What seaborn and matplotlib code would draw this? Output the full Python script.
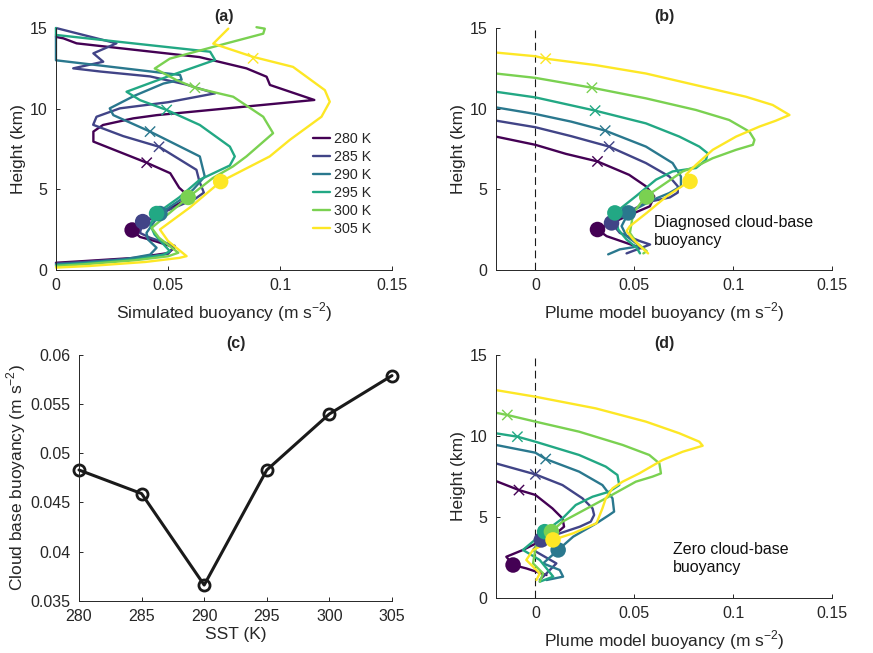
import matplotlib
matplotlib.use("Agg")
import matplotlib.pyplot as plt
import numpy as np
import pandas as pd
import seaborn as sns

SST = [280, 285, 290, 295, 300, 305]
LABELS = ["%d K" % s for s in SST]

# (a) simulated buoyancy profiles, bottom to top
SIM_B = {
    280: [0.0, 0.012, 0.035, 0.050, 0.053, 0.044, 0.0375, 0.034, 0.045, 0.056, 0.059, 0.055, 0.051, 0.0405,
          0.0167, 0.0167, 0.021, 0.0345, 0.045, 0.1153, 0.0955, 0.094, 0.085, 0.064, 0.0092, 0.0033, 0.0],
    285: [0.0, 0.012, 0.035, 0.05, 0.053, 0.042, 0.0375, 0.0387, 0.050, 0.062, 0.066, 0.064, 0.0627, 0.046,
          0.030, 0.0166, 0.0181, 0.0285, 0.050, 0.071, 0.058, 0.042, 0.020, 0.0077, 0.0211, 0.0167, 0.027, 0.0],
    290: [0.0, 0.012, 0.03, 0.042, 0.0449, 0.041, 0.0404, 0.0464, 0.055, 0.0612, 0.0664, 0.0642, 0.042,
          0.0256, 0.024, 0.035, 0.048, 0.0561, 0.0554, 0.0, 0.0],
    295: [0.0, 0.012, 0.035, 0.048, 0.0508, 0.044, 0.042, 0.0449, 0.055, 0.0642, 0.0776, 0.0798, 0.0776,
          0.0642, 0.0494, 0.0375, 0.0315, 0.05, 0.071, 0.0688, 0.0, 0.0],
    300: [0.0, 0.012, 0.035, 0.05, 0.0546, 0.046, 0.0427, 0.059, 0.070, 0.079, 0.085, 0.0969, 0.0925,
          0.0791, 0.062, 0.0538, 0.0441, 0.0508, 0.0702, 0.0925, 0.0932, 0.0895],
    305: [0.0, 0.015, 0.04, 0.055, 0.0583, 0.05, 0.0464, 0.06, 0.0735, 0.0954, 0.1044, 0.1185, 0.1222,
          0.12, 0.1058, 0.088, 0.0702, 0.0769],
}
SIM_Z = {
    280: [0.45, 0.55, 0.75, 1.05, 1.4, 1.8, 2.05, 2.48, 3.4, 4.2, 4.6, 5.1, 6.0, 6.65,
          7.96, 8.58, 8.99, 9.4, 9.6, 10.54, 11.47, 11.98, 12.5, 13.2, 14.05, 14.36, 14.45],
    285: [0.4, 0.5, 0.72, 1.0, 1.5, 2.0, 2.3, 3.0, 3.7, 4.4, 4.8, 5.5, 6.21, 7.64,
          8.3, 9.0, 9.5, 10.02, 10.4, 10.95, 11.5, 12.0, 12.3, 12.5, 12.91, 13.43, 14.05, 15.0],
    290: [0.35, 0.45, 0.65, 0.95, 1.38, 1.9, 2.3, 3.5, 4.3, 4.98, 5.8, 7.04, 8.58,
          9.6, 10.02, 10.8, 11.56, 11.8, 12.09, 13.0, 14.57],
    295: [0.3, 0.4, 0.65, 0.95, 1.17, 2.2, 2.82, 3.5, 4.5, 5.6, 6.48, 7.04, 7.65,
          8.99, 9.92, 10.53, 11.05, 12.0, 13.02, 13.53, 14.57, 15.0],
    300: [0.25, 0.35, 0.6, 0.85, 1.07, 2.0, 2.61, 4.5, 5.7, 6.42, 7.04, 8.48, 9.5,
          10.74, 11.3, 11.77, 12.49, 13.1, 13.83, 14.65, 14.96, 15.05],
    305: [0.15, 0.25, 0.5, 0.75, 0.86, 1.8, 2.51, 3.9, 5.48, 7.04, 8.07, 9.5, 10.43,
          11.15, 12.59, 13.21, 14.03, 14.96],
}
SIM_BASE_B = [0.034, 0.0387, 0.0464, 0.0449, 0.059, 0.0735]
SIM_BASE_Z = [2.48, 3.0, 3.5, 3.5, 4.5, 5.48]
SIM_LNB_B = [0.0405, 0.046, 0.042, 0.0494, 0.062, 0.088]
SIM_LNB_Z = [6.65, 7.64, 8.58, 9.92, 11.3, 13.12]

# (b) plume model, diagnosed cloud-base buoyancy
DIAG_B = {
    280: [0.0537, 0.036, 0.0314, 0.0461, 0.0579, 0.0601, 0.0559, 0.0474, 0.0314, 0.0154, 0.0, -0.02],
    285: [0.0461, 0.058, 0.0529, 0.0427, 0.0385, 0.0461, 0.0563, 0.068, 0.072, 0.072, 0.0677, 0.0559,
          0.0373, 0.018, 0.0, -0.02],
    290: [0.0368, 0.0427, 0.0529, 0.0461, 0.0436, 0.047, 0.0596, 0.0677, 0.0736, 0.0736, 0.0694, 0.0559,
          0.0353, 0.018, 0.0, -0.02],
    295: [0.0529, 0.0512, 0.0461, 0.0419, 0.0402, 0.0508, 0.061, 0.0694, 0.0812, 0.0863, 0.0871, 0.0829,
          0.0728, 0.0559, 0.0302, 0.0, -0.02],
    300: [0.0546, 0.0563, 0.0512, 0.0478, 0.0495, 0.0559, 0.061, 0.0745, 0.0812, 0.0897, 0.1015, 0.11,
          0.1108, 0.1082, 0.098, 0.0812, 0.0559, 0.0286, 0.0, -0.02],
    305: [0.057, 0.0529, 0.0495, 0.0461, 0.0478, 0.0563, 0.0664, 0.0778, 0.0761, 0.0812, 0.0897, 0.1015,
          0.1133, 0.1215, 0.1285, 0.12, 0.1065, 0.0812, 0.0559, 0.0305, 0.0052, 0.0, -0.02],
}
DIAG_Z = {
    280: [1.35, 2.1, 2.51, 3.33, 3.95, 4.57, 5.19, 5.9, 6.73, 7.2, 7.76, 8.27],
    285: [1.03, 1.58, 1.79, 2.3, 2.92, 3.54, 4.2, 4.5, 4.8, 5.19, 5.8, 6.63, 7.65, 8.3, 8.85, 9.26],
    290: [0.97, 1.28, 1.48, 2.1, 2.72, 3.54, 4.36, 4.77, 5.19, 5.8, 6.63, 7.65, 8.64, 9.2, 9.67, 10.08],
    295: [1.03, 1.38, 1.89, 2.51, 3.54, 4.57, 5.6, 6.11, 6.32, 6.83, 7.24, 7.65, 8.27, 9.09, 9.88,
          10.7, 11.05],
    300: [1.03, 1.17, 1.69, 2.3, 3.54, 4.57, 4.98, 6.11, 6.42, 6.93, 7.45, 7.76, 8.07, 8.58, 9.3, 9.92,
          10.64, 11.3, 11.91, 12.18],
    305: [1.03, 1.48, 1.89, 2.41, 2.72, 3.54, 4.57, 5.49, 5.9, 6.52, 7.45, 8.27, 8.89, 9.25, 9.61, 10.23,
          10.74, 11.46, 12.18, 12.7, 13.1, 13.25, 13.48],
}
DIAG_BASE_B = [0.0314, 0.0385, 0.047, 0.0402, 0.0563, 0.0782]
DIAG_BASE_Z = [2.51, 2.92, 3.54, 3.54, 4.53, 5.49]
DIAG_LNB_B = [0.0314, 0.0373, 0.0353, 0.0302, 0.0286, 0.0052]
DIAG_LNB_Z = [6.73, 7.65, 8.64, 9.88, 11.3, 13.1]

# (d) plume model, zero cloud-base buoyancy
ZERO_B = {
    280: [0.0056, -0.0046, -0.0113, -0.0147, -0.0063, 0.0106, 0.0145, 0.0137, 0.0086, 0.0, -0.0083, -0.02],
    285: [0.0022, 0.0056, 0.0106, -0.0012, 0.003, 0.0073, 0.0225, 0.028, 0.0297, 0.0289, 0.0238, 0.0137,
          0.0, -0.02],
    290: [0.0056, 0.014, 0.0123, 0.0039, 0.0115, 0.0191, 0.0309, 0.0373, 0.0398, 0.039, 0.0339, 0.0221,
          0.0052, 0.0, -0.02],
    295: [0.0022, 0.009, 0.0022, -0.0063, 0.0047, 0.0137, 0.0204, 0.0289, 0.0373, 0.0424, 0.0415, 0.0356,
          0.0221, 0.0, -0.0091, -0.02],
    300: [0.0022, 0.0039, -0.0012, 0.0005, 0.0081, 0.0137, 0.0356, 0.0508, 0.0592, 0.0635, 0.0627, 0.0576,
          0.0441, 0.0221, 0.0, -0.0142, -0.02],
    305: [0.0005, 0.0022, -0.0046, -0.0012, 0.0089, 0.0191, 0.0309, 0.0339, 0.0356, 0.039, 0.0441, 0.0525,
          0.0643, 0.0745, 0.0846, 0.0829, 0.0728, 0.0559, 0.0305, 0.0, -0.02],
}
ZERO_Z = {
    280: [1.4, 1.81, 2.02, 2.53, 2.95, 3.98, 4.39, 4.9, 5.52, 6.35, 6.65, 7.21],
    285: [1.1, 1.5, 2.12, 2.95, 3.57, 3.77, 4.39, 4.7, 5.11, 5.52, 6.14, 6.96, 7.62, 8.3],
    290: [1.09, 1.3, 1.71, 2.12, 2.95, 3.77, 4.6, 5.11, 5.32, 6.14, 6.96, 7.79, 8.57, 8.96, 9.44],
    295: [0.99, 1.3, 2.33, 2.95, 4.08, 4.9, 5.73, 6.24, 6.55, 6.96, 7.58, 8.1, 8.82, 9.64, 9.95, 10.16],
    300: [0.99, 1.5, 2.12, 3.36, 4.08, 4.7, 6.14, 7.17, 7.48, 7.68, 8.3, 8.82, 9.44, 10.26, 10.88, 11.29,
          11.43],
    305: [1.09, 1.5, 2.33, 2.95, 3.57, 3.98, 4.6, 5.52, 6.14, 6.76, 7.17, 7.68, 8.51, 9.02, 9.39, 9.64,
          10.16, 10.88, 11.7, 12.42, 12.83],
}
ZERO_BASE_B = [-0.0113, 0.003, 0.0115, 0.0047, 0.0081, 0.0089]
ZERO_BASE_Z = [2.02, 3.57, 2.95, 4.08, 4.08, 3.57]
ZERO_LNB_B = [-0.0083, 0.0, 0.0052, -0.0091, -0.0142, np.nan]
ZERO_LNB_Z = [6.65, 7.62, 8.57, 9.95, 11.29, np.nan]

# (c) cloud base buoyancy vs SST
CB_BUOY = [0.0483, 0.0459, 0.0366, 0.0483, 0.0540, 0.0579]

DARK = "#262626"
PALETTE = sns.color_palette("viridis", as_cmap=True)(np.linspace(0, 1, 6))
PALETTE = [tuple(c[:3]) for c in PALETTE]


def profiles(b, z):
    rows = []
    for s, lab in zip(SST, LABELS):
        for bb, zz in zip(b[s], z[s]):
            rows.append({"sst": lab, "b": bb, "z": zz})
    return pd.DataFrame(rows)


def points(b, z):
    return pd.DataFrame({"sst": LABELS, "b": b, "z": z})


def style_axes(ax):
    sns.despine(ax=ax)
    for sp in ["left", "bottom"]:
        ax.spines[sp].set_color(DARK)
        ax.spines[sp].set_linewidth(0.7)
    ax.tick_params(direction="in", length=3, width=0.7, colors=DARK,
                   labelsize=11.5, pad=6)


def profile_panel(ax, b, z, base_b, base_z, lnb_b, lnb_z, xmin, clip=True):
    sns.lineplot(data=profiles(b, z), x="b", y="z", hue="sst", hue_order=LABELS,
                 palette=PALETTE, sort=False, estimator=None, linewidth=1.7,
                 ax=ax, legend=True, clip_on=clip)
    sns.scatterplot(data=points(lnb_b, lnb_z), x="b", y="z", hue="sst", hue_order=LABELS,
                    palette=PALETTE, marker="x", s=55, linewidth=1.0, ax=ax,
                    legend=False, zorder=3)
    sns.scatterplot(data=points(base_b, base_z), x="b", y="z", hue="sst", hue_order=LABELS,
                    palette=PALETTE, marker="o", s=125, linewidth=0, ax=ax,
                    legend=False, zorder=4)
    ax.set_xlim(xmin, 0.15)
    ax.set_ylim(0, 15)
    ax.set_xticks([0, 0.05, 0.1, 0.15], ["0", "0.05", "0.1", "0.15"])
    ax.set_yticks([0, 5, 10, 15], ["0", "5", "10", "15"])
    ax.set_ylabel("Height (km)", fontsize=12.5, color=DARK, labelpad=3)
    style_axes(ax)


sns.set_theme(style="ticks")
plt.rcParams["font.family"] = ["Liberation Sans", "DejaVu Sans"]
plt.rcParams["mathtext.fontset"] = "custom"
plt.rcParams["mathtext.rm"] = "Liberation Sans"

fig = plt.figure(figsize=(8.73, 6.53), dpi=100)
ax_a = fig.add_axes([0.0641, 0.5865, 0.385, 0.3706])
ax_b = fig.add_axes([0.568, 0.5865, 0.385, 0.3706])
ax_c = fig.add_axes([0.0905, 0.080, 0.3585, 0.3764])
ax_d = fig.add_axes([0.568, 0.0847, 0.385, 0.3717])

unit = r"(m s$^{-2}$)"

# (a)
profile_panel(ax_a, SIM_B, SIM_Z, SIM_BASE_B, SIM_BASE_Z, SIM_LNB_B, SIM_LNB_Z, 0, clip=False)
ax_a.set_xlabel("Simulated buoyancy " + unit, fontsize=12.5, color=DARK, labelpad=5)
ax_a.set_title("(a)", fontsize=11.5, fontweight="bold", pad=5)
sns.move_legend(ax_a, "upper left", bbox_to_anchor=(0.765, 0.57), frameon=False, title=None,
                fontsize=10.3, handlelength=1.2, handletextpad=0.25, labelspacing=0.28,
                borderpad=0, borderaxespad=0)

# (b)
ax_b.axvline(0, color="k", linestyle=(0, (7, 4)), linewidth=0.8, zorder=1)
profile_panel(ax_b, DIAG_B, DIAG_Z, DIAG_BASE_B, DIAG_BASE_Z, DIAG_LNB_B, DIAG_LNB_Z, -0.02)
ax_b.get_legend().remove()
ax_b.set_xlabel("Plume model buoyancy " + unit, fontsize=12.5, color=DARK, labelpad=5)
ax_b.set_title("(b)", fontsize=11.5, fontweight="bold", pad=5)
ax_b.text(0.060, 2.4, "Diagnosed cloud-base\nbuoyancy", fontsize=11.5, va="center", ha="left",
          linespacing=1.25, color="#111111")

# (c)
df_c = pd.DataFrame({"sst": SST, "cb": CB_BUOY})
sns.lineplot(data=df_c, x="sst", y="cb", color="k", linewidth=2.2, marker="o",
             markersize=8, markerfacecolor="none", markeredgecolor="k", markeredgewidth=2.0,
             ax=ax_c, clip_on=False)
ax_c.set_xlim(280, 305)
ax_c.set_ylim(0.035, 0.06)
ax_c.set_xticks(SST, [str(s) for s in SST])
ax_c.set_yticks([0.035, 0.04, 0.045, 0.05, 0.055, 0.06],
                ["0.035", "0.04", "0.045", "0.05", "0.055", "0.06"])
ax_c.set_xlabel("SST (K)", fontsize=12.5, color=DARK, labelpad=2)
ax_c.set_ylabel("Cloud base buoyancy " + unit, fontsize=12.5, color=DARK, labelpad=2)
ax_c.set_title("(c)", fontsize=11.5, fontweight="bold", pad=5)
style_axes(ax_c)

# (d)
ax_d.axvline(0, color="k", linestyle=(0, (7, 4)), linewidth=0.8, zorder=1)
profile_panel(ax_d, ZERO_B, ZERO_Z, ZERO_BASE_B, ZERO_BASE_Z, ZERO_LNB_B, ZERO_LNB_Z, -0.02)
ax_d.get_legend().remove()
ax_d.set_xlabel("Plume model buoyancy " + unit, fontsize=12.5, color=DARK, labelpad=5)
ax_d.set_title("(d)", fontsize=11.5, fontweight="bold", pad=5)
ax_d.text(0.0697, 2.44, "Zero cloud-base\nbuoyancy", fontsize=11.5, va="center", ha="left",
          linespacing=1.25, color="#111111")

fig.savefig("out.png", dpi=100)
